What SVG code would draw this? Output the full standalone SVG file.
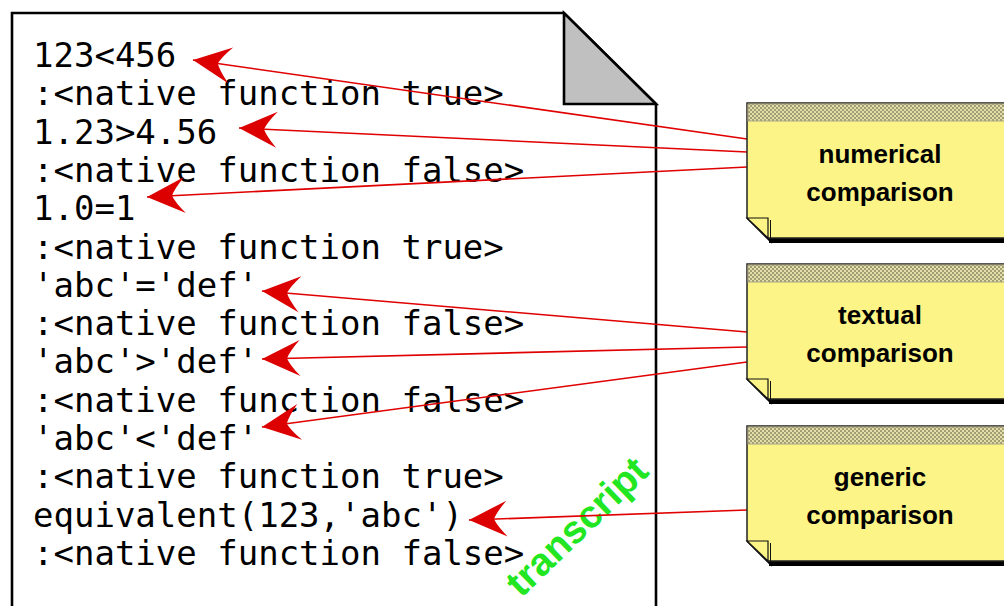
<svg xmlns="http://www.w3.org/2000/svg" width="1004" height="606" viewBox="0 0 1004 606">
  <style>
    .code { font-family: "DejaVu Sans Mono", "Liberation Mono", monospace; font-size: 34px; fill: #000; }
    .label { font-family: "Liberation Sans", Arial, sans-serif; font-size: 26px; font-weight: bold; fill: #000; text-anchor: middle; }
    .body { fill: #fcf486; stroke: #222; stroke-width: 1.5; }
    .strip { fill: url(#dots); stroke: #a8a488; stroke-width: 1; }
    .flap { fill: #fcf486; stroke: #111; stroke-width: 1.2; }
    .shadow { fill: #000; }
    .link { stroke: #e00000; stroke-width: 1.6; fill: none; marker-end: url(#head); }
    .stamp { font-family: "Liberation Sans", Arial, sans-serif; font-size: 39px; font-weight: bold; fill: #22e622; }
  </style>
  <defs>
    <pattern id="dots" width="4" height="4" patternUnits="userSpaceOnUse">
      <rect width="4" height="4" fill="#e4dfa6"/>
      <circle cx="1" cy="1" r="0.75" fill="#3a3a30"/>
      <circle cx="3" cy="3" r="0.75" fill="#3a3a30"/>
    </pattern>
    <marker id="head" markerUnits="userSpaceOnUse" markerWidth="1" markerHeight="1" refX="0" refY="0" orient="auto" overflow="visible">
      <path d="M0,0 L-38,-18 Q-28,-7 -25,0 Q-28,7 -38,18 Z" fill="#dd0000"/>
    </marker>
  </defs>

  <!-- transcript page -->
  <g id="page">
    <path d="M12,610 L12,13 L564,13 L656,104 L656,610" fill="#fff" stroke="#000" stroke-width="2.6"/>
    <path d="M564,13 L564,104 L656,104 Z" fill="#c0c0c0" stroke="#000" stroke-width="2.6" stroke-linejoin="miter"/>
    <text class="code" x="33">
      <tspan x="33" y="67">123&lt;456</tspan>
      <tspan x="33" y="105.3">:&lt;native function true&gt;</tspan>
      <tspan x="33" y="143.6">1.23&gt;4.56</tspan>
      <tspan x="33" y="181.9">:&lt;native function false&gt;</tspan>
      <tspan x="33" y="220.2">1.0=1</tspan>
      <tspan x="33" y="258.5">:&lt;native function true&gt;</tspan>
      <tspan x="33" y="296.8">'abc'='def'</tspan>
      <tspan x="33" y="335.1">:&lt;native function false&gt;</tspan>
      <tspan x="33" y="373.4">'abc'&gt;'def'</tspan>
      <tspan x="33" y="411.7">:&lt;native function false&gt;</tspan>
      <tspan x="33" y="450">'abc'&lt;'def'</tspan>
      <tspan x="33" y="488.3">:&lt;native function true&gt;</tspan>
      <tspan x="33" y="526.6">equivalent(123,'abc')</tspan>
      <tspan x="33" y="564.9">:&lt;native function false&gt;</tspan>
    </text>
    <text class="stamp" transform="translate(586,536) rotate(-44)" text-anchor="middle">transcript</text>
  </g>

  <!-- connectors from notes to transcript lines -->
  <g id="connectors">
    <line class="link" x1="747" y1="139" x2="193" y2="60"/>
    <line class="link" x1="747" y1="152" x2="239" y2="128"/>
    <line class="link" x1="747" y1="167" x2="147" y2="197"/>
    <line class="link" x1="747" y1="332" x2="262" y2="291"/>
    <line class="link" x1="747" y1="347" x2="262" y2="359"/>
    <line class="link" x1="747" y1="362" x2="262" y2="427"/>
    <line class="link" x1="747" y1="510" x2="469" y2="520"/>
  </g>

  <!-- note: numerical comparison -->
  <g id="note-numerical" transform="translate(0,103)">
    <rect class="shadow" x="769" y="134" width="240" height="6"/>
    <line x1="747" y1="115" x2="772" y2="140" stroke="#000" stroke-width="1.6"/>
    <path class="body" d="M1010,0 L747,0 L747,115 L768,135 L1010,135"/>
    <rect class="strip" x="748" y="1" width="262" height="17"/>
    <path class="flap" d="M747,115 L768,115 L768,135 Z"/>
    <line x1="770.5" y1="117" x2="770.5" y2="136" stroke="#111" stroke-width="1"/>
    <text class="label" x="880" y="60">numerical</text>
    <text class="label" x="880" y="98">comparison</text>
  </g>

  <!-- note: textual comparison -->
  <g id="note-textual" transform="translate(0,264)">
    <rect class="shadow" x="769" y="134" width="240" height="6"/>
    <line x1="747" y1="115" x2="772" y2="140" stroke="#000" stroke-width="1.6"/>
    <path class="body" d="M1010,0 L747,0 L747,115 L768,135 L1010,135"/>
    <rect class="strip" x="748" y="1" width="262" height="17"/>
    <path class="flap" d="M747,115 L768,115 L768,135 Z"/>
    <line x1="770.5" y1="117" x2="770.5" y2="136" stroke="#111" stroke-width="1"/>
    <text class="label" x="880" y="60">textual</text>
    <text class="label" x="880" y="98">comparison</text>
  </g>

  <!-- note: generic comparison -->
  <g id="note-generic" transform="translate(0,426)">
    <rect class="shadow" x="769" y="134" width="240" height="6"/>
    <line x1="747" y1="115" x2="772" y2="140" stroke="#000" stroke-width="1.6"/>
    <path class="body" d="M1010,0 L747,0 L747,115 L768,135 L1010,135"/>
    <rect class="strip" x="748" y="1" width="262" height="17"/>
    <path class="flap" d="M747,115 L768,115 L768,135 Z"/>
    <line x1="770.5" y1="117" x2="770.5" y2="136" stroke="#111" stroke-width="1"/>
    <text class="label" x="880" y="60">generic</text>
    <text class="label" x="880" y="98">comparison</text>
  </g>
</svg>
